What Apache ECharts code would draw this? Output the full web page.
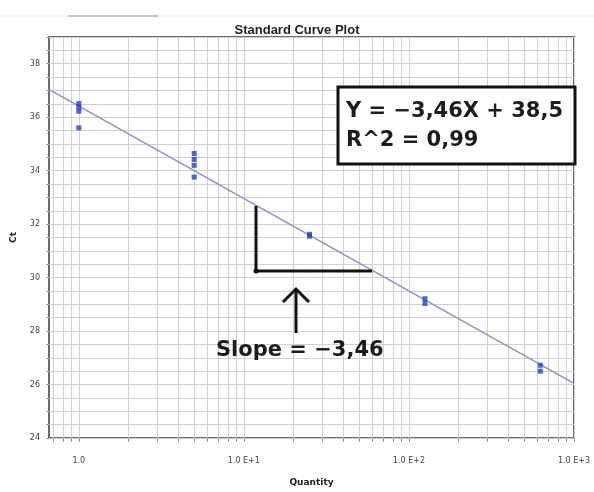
<!DOCTYPE html>
<html>
<head>
<meta charset="utf-8">
<script src="https://cdn.jsdelivr.net/npm/echarts@6/dist/echarts.min.js"></script>
<style>
  html, body { margin: 0; padding: 0; background: #ffffff; }
  #chart { width: 594px; height: 492px; }
</style>
</head>
<body>
<div id="chart"></div>
<script>
// Standard dilution series: quantity of template and measured Ct (replicates)
const quantities = [1, 1, 1, 1, 5, 5, 5, 5, 25, 25, 125, 125, 625, 625];
const ctValues   = [36.51, 36.37, 36.22, 35.6, 34.64, 34.42, 34.2, 33.76, 31.62, 31.55, 29.21, 29.03, 26.72, 26.5];

// Regression: Ct = slope * log10(quantity) + ctAtOne
const fitSlope = -3.46;
const ctAtOne = 36.42;

// Axis ranges and labels
const xMin = 0.66, xMax = 1000;
const yMin = 24, yMax = 39;
const xLabelValues = [1, 10, 100, 1000];
const xLabelTexts = ['1.0', '1.0 E+1', '1.0 E+2', '1.0 E+3'];

// Log grid positions: 1..9 within each decade
const xGridValues = [0.7, 0.8, 0.9];
[1, 10, 100].forEach(function (d) {
  for (let m = 1; m <= 9; m++) xGridValues.push(+(m * d).toPrecision(3));
});
xGridValues.push(1000);

const scatterData = quantities.map(function (q, i) { return [q, ctValues[i]]; });
const fitData = [xMin, xMax].map(function (q) {
  return [q, fitSlope * Math.log10(q) + ctAtOne];
});

const gridColor = '#d0d0d0';
const labelFont = '"DejaVu Sans", sans-serif';
const noteFont = 'bold 21px "DejaVu Sans", sans-serif';

const chart = echarts.init(document.getElementById('chart'), null, { renderer: 'canvas' });
chart.setOption({
  backgroundColor: '#ffffff',
  animation: false,
  title: {
    text: 'Standard Curve Plot',
    left: 'center',
    top: 19,
    textStyle: { fontFamily: '"Liberation Sans", sans-serif', fontSize: 13, fontWeight: 'bold', color: '#222' }
  },
  grid: {
    left: 49, right: 20, top: 37, bottom: 47,
    show: true, borderColor: '#6c6c6c', borderWidth: 2, backgroundColor: '#ffffff'
  },
  xAxis: {
    type: 'log',
    logBase: 10,
    min: xMin,
    max: xMax,
    name: 'Quantity',
    nameLocation: 'middle',
    nameGap: 40,
    nameTextStyle: { fontFamily: labelFont, fontSize: 9, fontWeight: 'bold', color: '#222' },
    axisLine: { show: false },
    axisTick: { show: true, length: 4, customValues: xGridValues, lineStyle: { color: '#9a9a9a' } },
    axisLabel: {
      customValues: xLabelValues,
      margin: 19,
      fontFamily: labelFont, fontSize: 8, color: '#444',
      formatter: function (v) {
        const i = xLabelValues.findIndex(function (t) { return Math.abs(t - v) / t < 1e-6; });
        return i >= 0 ? xLabelTexts[i] : '';
      }
    },
    splitLine: { show: true, lineStyle: { color: gridColor, width: 1 } }
  },
  yAxis: {
    type: 'value',
    min: yMin,
    max: yMax,
    interval: 0.5,
    name: 'Ct',
    nameLocation: 'middle',
    nameGap: 31,
    nameTextStyle: { fontFamily: labelFont, fontSize: 9, fontWeight: 'bold', color: '#222' },
    axisLine: { show: false },
    axisTick: { show: true, length: 3, lineStyle: { color: '#9a9a9a' } },
    axisLabel: {
      margin: 9,
      fontFamily: labelFont, fontSize: 8, color: '#444',
      formatter: function (v) { return (v % 2 === 0 && v < yMax) ? String(v) : ''; }
    },
    splitLine: { show: true, lineStyle: { color: gridColor, width: 1 } }
  },
  series: [
    {
      type: 'line',
      data: fitData,
      symbol: 'none',
      lineStyle: { color: '#8c90c8', width: 1.5 },
      z: 2
    },
    {
      type: 'scatter',
      data: scatterData,
      symbol: 'rect',
      symbolSize: 5,
      itemStyle: { color: '#2341c2' },
      z: 3
    }
  ],
  graphic: [
    // faint tab line above the plot
    { type: 'line', shape: { x1: 0, y1: 16, x2: 594, y2: 16 }, style: { stroke: '#eeeeee', lineWidth: 1 }, silent: true },
    { type: 'line', shape: { x1: 68, y1: 16, x2: 158, y2: 16 }, style: { stroke: '#b5b5b5', lineWidth: 1.5 }, silent: true },
    // equation box
    {
      type: 'rect', z: 10,
      shape: { x: 338, y: 87, width: 237, height: 77 },
      style: { fill: '#ffffff', stroke: '#111111', lineWidth: 3 }
    },
    {
      type: 'text', z: 11,
      style: { text: 'Y = \u22123,46X + 38,5', x: 346, y: 112, font: noteFont, fill: '#1c1c1c', verticalAlign: 'middle' }
    },
    {
      type: 'text', z: 11,
      style: { text: 'R^2 = 0,99', x: 346, y: 141, font: noteFont, fill: '#1c1c1c', verticalAlign: 'middle' }
    },
    // slope triangle
    { type: 'polyline', z: 10, shape: { points: [[256, 206], [256, 271], [372, 271]] }, style: { stroke: '#111111', lineWidth: 3, fill: null } },
    { type: 'circle', z: 10, shape: { cx: 256, cy: 271, r: 2.5 }, style: { fill: '#111111' } },
    // arrow
    { type: 'line', z: 10, shape: { x1: 296, y1: 289, x2: 296, y2: 333 }, style: { stroke: '#111111', lineWidth: 3 } },
    { type: 'polyline', z: 10, shape: { points: [[283, 302], [296, 289], [309, 302]] }, style: { stroke: '#111111', lineWidth: 3, fill: null } },
    {
      type: 'text', z: 11,
      style: { text: 'Slope = \u22123,46', x: 216, y: 351, font: noteFont, fill: '#1c1c1c', verticalAlign: 'middle' }
    }
  ]
});
</script>
</body>
</html>
